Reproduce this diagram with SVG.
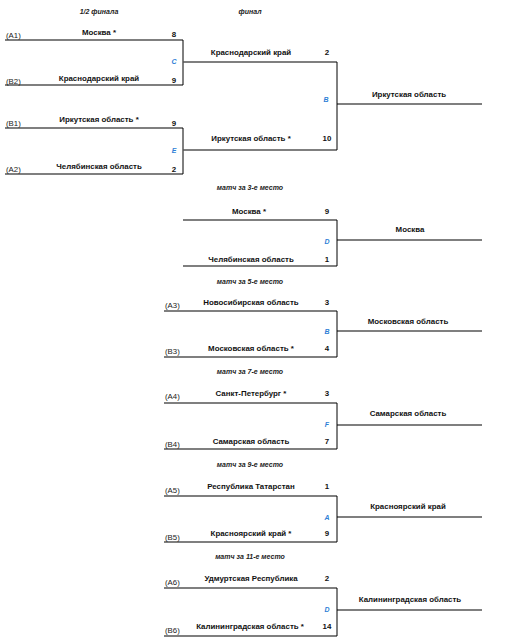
<svg xmlns="http://www.w3.org/2000/svg" width="505" height="644" viewBox="0 0 505 644">
<style>
.t{font-family:"Liberation Sans",Arial,sans-serif;font-size:7.9px;font-weight:bold;fill:#111;text-anchor:middle}
.s{font-family:"Liberation Sans",Arial,sans-serif;font-size:7.9px;font-weight:bold;fill:#111;text-anchor:middle}
.seed{font-family:"Liberation Sans",Arial,sans-serif;font-size:7.8px;fill:#222}
.h{font-family:"Liberation Sans",Arial,sans-serif;font-size:7px;font-weight:bold;font-style:italic;fill:#222;text-anchor:middle}
.m{font-family:"Liberation Sans",Arial,sans-serif;font-size:7px;font-weight:bold;font-style:italic;fill:#2f7fd6;text-anchor:middle}
.hl{stroke:#555;stroke-width:1.5;fill:none}
.vl{stroke:#000;stroke-width:1;fill:none}
</style>
<rect width="505" height="644" fill="#fff"/>
<g id="headings">
<text class="h" x="99" y="14">1/2 финала</text>
<text class="h" x="250" y="14">финал</text>
<text class="h" x="250" y="190">матч за 3-е место</text>
<text class="h" x="250" y="284">матч за 5-е место</text>
<text class="h" x="250" y="374">матч за 7-е место</text>
<text class="h" x="250" y="467">матч за 9-е место</text>
<text class="h" x="250" y="559">матч за 11-е место</text>
</g>
<g id="connectors">
<path class="hl" d="M5 40H183M5 85H183M5 128H183M5 174H183"/>
<path class="vl" d="M183 40V85M183 128V174"/>
<path class="hl" d="M183 62H337M183 150H337M337 104H482"/>
<path class="vl" d="M337 62V150"/>
<path class="hl" d="M183 220H337M183 266H337M337 240H482"/>
<path class="vl" d="M337 220V266"/>
<path class="hl" d="M164 311H337M164 357H337M337 331H482"/>
<path class="vl" d="M337 311V357"/>
<path class="hl" d="M164 403H337M164 449H337M337 425H482"/>
<path class="vl" d="M337 403V449"/>
<path class="hl" d="M164 496H337M164 542H337M337 517H482"/>
<path class="vl" d="M337 496V542"/>
<path class="hl" d="M164 588H337M164 636H337M337 610H482"/>
<path class="vl" d="M337 588V636"/>
</g>
<g id="match-C">
<text class="seed" x="6" y="38">(A1)</text>
<text class="t" x="99" y="35">Москва *</text>
<text class="s" x="174" y="37">8</text>
<text class="m" x="174" y="64">C</text>
<text class="seed" x="6" y="84">(B2)</text>
<text class="t" x="99" y="81">Краснодарский край</text>
<text class="s" x="174" y="83">9</text>
</g>
<g id="match-E">
<text class="seed" x="6" y="126">(B1)</text>
<text class="t" x="99" y="122">Иркутская область *</text>
<text class="s" x="174" y="126">9</text>
<text class="m" x="174" y="153">E</text>
<text class="seed" x="6" y="172">(A2)</text>
<text class="t" x="99" y="169">Челябинская область</text>
<text class="s" x="174" y="172">2</text>
</g>
<g id="match-final-B">
<text class="t" x="251" y="55">Краснодарский край</text>
<text class="s" x="327" y="55">2</text>
<text class="m" x="326" y="102">B</text>
<text class="t" x="251" y="141">Иркутская область *</text>
<text class="s" x="327" y="141">10</text>
<text class="t" x="409" y="97">Иркутская область</text>
</g>
<g id="match-3-D">
<text class="t" x="249" y="214">Москва *</text>
<text class="s" x="327" y="214">9</text>
<text class="m" x="327" y="244">D</text>
<text class="t" x="251" y="262">Челябинская область</text>
<text class="s" x="327" y="262">1</text>
<text class="t" x="410" y="232">Москва</text>
</g>
<g id="match-5-B">
<text class="seed" x="165" y="308">(A3)</text>
<text class="t" x="251" y="305">Новосибирская область</text>
<text class="s" x="327" y="305">3</text>
<text class="m" x="327" y="334">B</text>
<text class="seed" x="165" y="354">(B3)</text>
<text class="t" x="251" y="351">Московская область *</text>
<text class="s" x="327" y="351">4</text>
<text class="t" x="408" y="324">Московская область</text>
</g>
<g id="match-7-F">
<text class="seed" x="165" y="399">(A4)</text>
<text class="t" x="251" y="396">Санкт-Петербург *</text>
<text class="s" x="327" y="396">3</text>
<text class="m" x="327" y="427">F</text>
<text class="seed" x="165" y="447">(B4)</text>
<text class="t" x="251" y="444">Самарская область</text>
<text class="s" x="327" y="444">7</text>
<text class="t" x="408" y="416">Самарская область</text>
</g>
<g id="match-9-A">
<text class="seed" x="165" y="493">(A5)</text>
<text class="t" x="251" y="489">Республика Татарстан</text>
<text class="s" x="327" y="489">1</text>
<text class="m" x="327" y="520">A</text>
<text class="seed" x="165" y="540">(B5)</text>
<text class="t" x="251" y="536">Красноярский край *</text>
<text class="s" x="327" y="536">9</text>
<text class="t" x="408" y="509">Красноярский край</text>
</g>
<g id="match-11-D">
<text class="seed" x="165" y="585">(A6)</text>
<text class="t" x="251" y="581">Удмуртская Республика</text>
<text class="s" x="327" y="581">2</text>
<text class="m" x="327" y="612">D</text>
<text class="seed" x="165" y="633">(B6)</text>
<text class="t" x="250" y="629">Калининградская область *</text>
<text class="s" x="327" y="629">14</text>
<text class="t" x="410" y="602">Калининградская область</text>
</g>
</svg>
